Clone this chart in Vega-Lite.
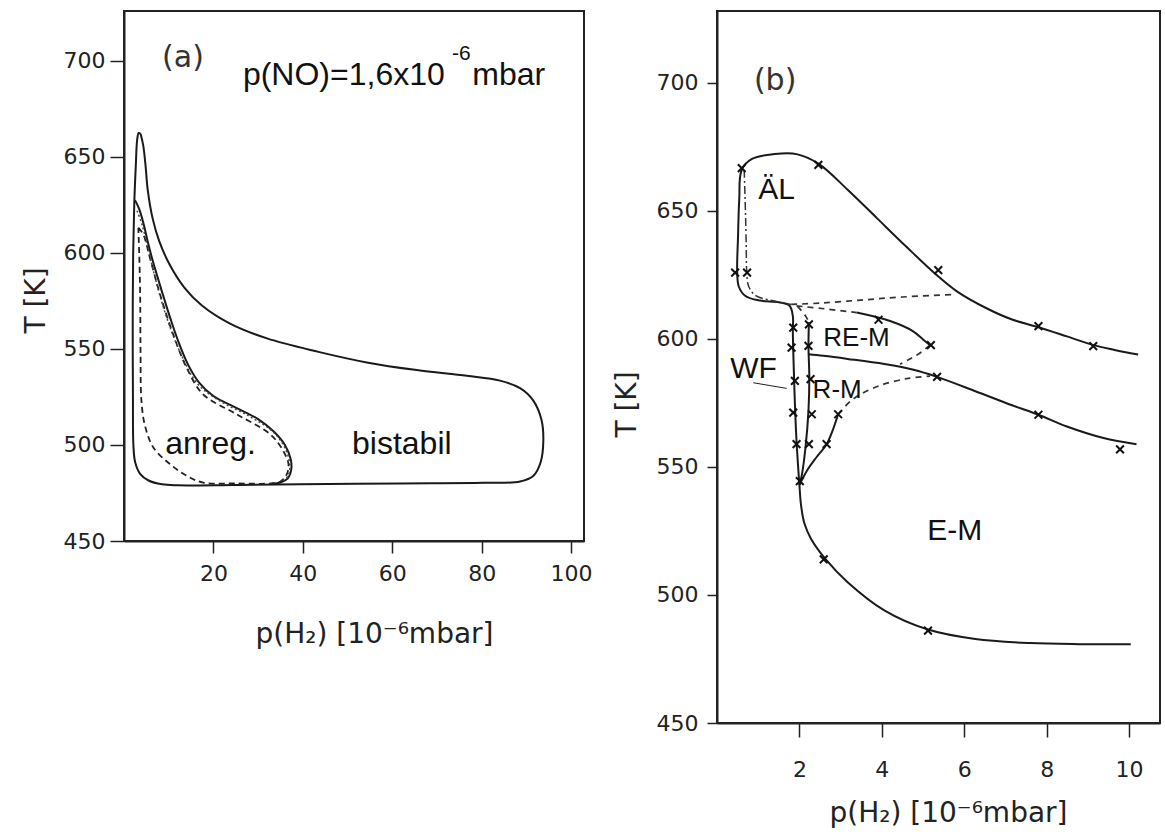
{
  "$schema": "https://vega.github.io/schema/vega-lite/v6.json",
  "padding": {"left": 21, "top": 10, "right": 0, "bottom": 0},
  "background": "white",
  "spacing": 18,
  "config": {
    "view": {"stroke": "#222", "strokeWidth": 2},
    "font": "DejaVu Sans",
    "axis": {
      "grid": false,
      "domainColor": "#222",
      "domainWidth": 2,
      "tickColor": "#222",
      "tickWidth": 1.5,
      "labelFont": "DejaVu Sans",
      "labelFontSize": 22,
      "labelColor": "#222",
      "titleFont": "DejaVu Sans",
      "titleFontSize": 28,
      "titleFontWeight": "normal",
      "titleColor": "#222",
      "titleBaseline": "middle",
      "titleAlign": "center"
    }
  },
  "datasets": {
    "a_lines": [
      {"c": "outer", "s": "solid", "i": 0, "p": 3.73, "T": 662.0},
      {"c": "outer", "s": "solid", "i": 1, "p": 4.3, "T": 656},
      {"c": "outer", "s": "solid", "i": 2, "p": 4.8, "T": 646},
      {"c": "outer", "s": "solid", "i": 3, "p": 5.3, "T": 633},
      {"c": "outer", "s": "solid", "i": 4, "p": 6.4, "T": 618},
      {"c": "outer", "s": "solid", "i": 5, "p": 7.9, "T": 606},
      {"c": "outer", "s": "solid", "i": 6, "p": 10.2, "T": 594},
      {"c": "outer", "s": "solid", "i": 7, "p": 13.5, "T": 582},
      {"c": "outer", "s": "solid", "i": 8, "p": 17.5, "T": 572.5},
      {"c": "outer", "s": "solid", "i": 9, "p": 23.5, "T": 563.5},
      {"c": "outer", "s": "solid", "i": 10, "p": 32, "T": 555.5},
      {"c": "outer", "s": "solid", "i": 11, "p": 43.5, "T": 548.5},
      {"c": "outer", "s": "solid", "i": 12, "p": 54.3, "T": 543},
      {"c": "outer", "s": "solid", "i": 13, "p": 65.5, "T": 539},
      {"c": "outer", "s": "solid", "i": 14, "p": 76.7, "T": 536},
      {"c": "outer", "s": "solid", "i": 15, "p": 84.1, "T": 533.5},
      {"c": "outer", "s": "solid", "i": 16, "p": 88.6, "T": 529.6},
      {"c": "outer", "s": "solid", "i": 17, "p": 91.6, "T": 523},
      {"c": "outer", "s": "solid", "i": 18, "p": 93.4, "T": 513},
      {"c": "outer", "s": "solid", "i": 19, "p": 93.8, "T": 502},
      {"c": "outer", "s": "solid", "i": 20, "p": 93.2, "T": 491},
      {"c": "outer", "s": "solid", "i": 21, "p": 91.6, "T": 484},
      {"c": "outer", "s": "solid", "i": 22, "p": 88.6, "T": 481},
      {"c": "outer", "s": "solid", "i": 23, "p": 80.4, "T": 480.3},
      {"c": "outer", "s": "solid", "i": 24, "p": 61.7, "T": 480},
      {"c": "outer", "s": "solid", "i": 25, "p": 39.4, "T": 479.6},
      {"c": "outer", "s": "solid", "i": 26, "p": 24.5, "T": 479.2},
      {"c": "outer", "s": "solid", "i": 27, "p": 12, "T": 479},
      {"c": "outer", "s": "solid", "i": 28, "p": 8.5, "T": 479.5},
      {"c": "outer", "s": "solid", "i": 29, "p": 5.5, "T": 481.5},
      {"c": "outer", "s": "solid", "i": 30, "p": 3.6, "T": 485},
      {"c": "outer", "s": "solid", "i": 31, "p": 2.5, "T": 491},
      {"c": "outer", "s": "solid", "i": 32, "p": 2.1, "T": 500},
      {"c": "outer", "s": "solid", "i": 33, "p": 2.0, "T": 525},
      {"c": "outer", "s": "solid", "i": 34, "p": 1.95, "T": 563},
      {"c": "outer", "s": "solid", "i": 35, "p": 2.05, "T": 600},
      {"c": "outer", "s": "solid", "i": 36, "p": 2.3, "T": 626},
      {"c": "outer", "s": "solid", "i": 37, "p": 2.65, "T": 646},
      {"c": "outer", "s": "solid", "i": 38, "p": 2.95, "T": 659},
      {"c": "outer", "s": "solid", "i": 39, "p": 3.3, "T": 662.5},
      {"c": "outer", "s": "solid", "i": 40, "p": 3.73, "T": 662.0},
      {"c": "inner", "s": "solid", "i": 0, "p": 2.46, "T": 627.5},
      {"c": "inner", "s": "solid", "i": 1, "p": 3.0, "T": 625},
      {"c": "inner", "s": "solid", "i": 2, "p": 3.6, "T": 621.5},
      {"c": "inner", "s": "solid", "i": 3, "p": 4.5, "T": 614},
      {"c": "inner", "s": "solid", "i": 4, "p": 5.3, "T": 606},
      {"c": "inner", "s": "solid", "i": 5, "p": 6.3, "T": 597},
      {"c": "inner", "s": "solid", "i": 6, "p": 7.5, "T": 587.5},
      {"c": "inner", "s": "solid", "i": 7, "p": 9.0, "T": 576},
      {"c": "inner", "s": "solid", "i": 8, "p": 10.5, "T": 565},
      {"c": "inner", "s": "solid", "i": 9, "p": 12.3, "T": 553},
      {"c": "inner", "s": "solid", "i": 10, "p": 14.3, "T": 542},
      {"c": "inner", "s": "solid", "i": 11, "p": 16.8, "T": 532.5},
      {"c": "inner", "s": "solid", "i": 12, "p": 20, "T": 525.5},
      {"c": "inner", "s": "solid", "i": 13, "p": 25, "T": 519.5},
      {"c": "inner", "s": "solid", "i": 14, "p": 30, "T": 513.5},
      {"c": "inner", "s": "solid", "i": 15, "p": 33.5, "T": 507},
      {"c": "inner", "s": "solid", "i": 16, "p": 36, "T": 500},
      {"c": "inner", "s": "solid", "i": 17, "p": 37.3, "T": 492.5},
      {"c": "inner", "s": "solid", "i": 18, "p": 37.4, "T": 487},
      {"c": "inner", "s": "solid", "i": 19, "p": 36.6, "T": 482.5},
      {"c": "inner", "s": "solid", "i": 20, "p": 35, "T": 480.5},
      {"c": "inner", "s": "solid", "i": 21, "p": 33, "T": 479.8},
      {"c": "dash", "s": "dashed", "i": 0, "p": 3.2, "T": 613.2},
      {"c": "dash", "s": "dashed", "i": 1, "p": 4.3, "T": 609.7},
      {"c": "dash", "s": "dashed", "i": 2, "p": 5.8, "T": 597.5},
      {"c": "dash", "s": "dashed", "i": 3, "p": 8.05, "T": 578.5},
      {"c": "dash", "s": "dashed", "i": 4, "p": 11.0, "T": 557.6},
      {"c": "dash", "s": "dashed", "i": 5, "p": 14.0, "T": 540.3},
      {"c": "dash", "s": "dashed", "i": 6, "p": 17.7, "T": 526.4},
      {"c": "dash", "s": "dashed", "i": 7, "p": 25.2, "T": 516},
      {"c": "dash", "s": "dashed", "i": 8, "p": 32.7, "T": 505.6},
      {"c": "dash", "s": "dashed", "i": 9, "p": 35.6, "T": 497},
      {"c": "dash", "s": "dashed", "i": 10, "p": 36.8, "T": 490},
      {"c": "dash", "s": "dashed", "i": 11, "p": 36.4, "T": 484.7},
      {"c": "dash", "s": "dashed", "i": 12, "p": 35, "T": 481},
      {"c": "dash", "s": "dashed", "i": 13, "p": 33, "T": 480},
      {"c": "dash", "s": "dashed", "i": 14, "p": 25, "T": 480},
      {"c": "dash", "s": "dashed", "i": 15, "p": 17.7, "T": 480.4},
      {"c": "dash", "s": "dashed", "i": 16, "p": 14, "T": 484},
      {"c": "dash", "s": "dashed", "i": 17, "p": 10.3, "T": 490},
      {"c": "dash", "s": "dashed", "i": 18, "p": 6.6, "T": 498.6},
      {"c": "dash", "s": "dashed", "i": 19, "p": 4.7, "T": 510},
      {"c": "dash", "s": "dashed", "i": 20, "p": 3.9, "T": 523},
      {"c": "dash", "s": "dashed", "i": 21, "p": 3.7, "T": 550},
      {"c": "dash", "s": "dashed", "i": 22, "p": 3.6, "T": 580},
      {"c": "dash", "s": "dashed", "i": 23, "p": 3.4, "T": 600},
      {"c": "dash", "s": "dashed", "i": 24, "p": 3.2, "T": 613.2},
      {"c": "dot", "s": "dotted", "i": 0, "p": 2.9, "T": 622},
      {"c": "dot", "s": "dotted", "i": 1, "p": 4.0, "T": 615},
      {"c": "dot", "s": "dotted", "i": 2, "p": 5.4, "T": 602},
      {"c": "dot", "s": "dotted", "i": 3, "p": 7.2, "T": 585},
      {"c": "dot", "s": "dotted", "i": 4, "p": 9.6, "T": 566},
      {"c": "dot", "s": "dotted", "i": 5, "p": 12.8, "T": 547},
      {"c": "dot", "s": "dotted", "i": 6, "p": 16.4, "T": 532},
      {"c": "dot", "s": "dotted", "i": 7, "p": 21, "T": 523.5},
      {"c": "dot", "s": "dotted", "i": 8, "p": 28, "T": 515},
      {"c": "dot", "s": "dotted", "i": 9, "p": 33.5, "T": 506.5},
      {"c": "dot", "s": "dotted", "i": 10, "p": 36.2, "T": 497.5},
      {"c": "dot", "s": "dotted", "i": 11, "p": 37.1, "T": 489},
      {"c": "dot", "s": "dotted", "i": 12, "p": 36.6, "T": 483.5},
      {"c": "dot", "s": "dotted", "i": 13, "p": 35, "T": 481.5}
    ],
    "b_lines": [
      {"c": "top", "s": "solid", "i": 0, "p": 10.22, "T": 593.9},
      {"c": "top", "s": "solid", "i": 1, "p": 9.65, "T": 595.7},
      {"c": "top", "s": "solid", "i": 2, "p": 9.13, "T": 597.6},
      {"c": "top", "s": "solid", "i": 3, "p": 8.49, "T": 601.0},
      {"c": "top", "s": "solid", "i": 4, "p": 7.8, "T": 604.6},
      {"c": "top", "s": "solid", "i": 5, "p": 7.16, "T": 607.6},
      {"c": "top", "s": "solid", "i": 6, "p": 6.54, "T": 612},
      {"c": "top", "s": "solid", "i": 7, "p": 5.83, "T": 618.5},
      {"c": "top", "s": "solid", "i": 8, "p": 5.3, "T": 625.4},
      {"c": "top", "s": "solid", "i": 9, "p": 4.59, "T": 636.1},
      {"c": "top", "s": "solid", "i": 10, "p": 3.88, "T": 647.2},
      {"c": "top", "s": "solid", "i": 11, "p": 3.17, "T": 658.3},
      {"c": "top", "s": "solid", "i": 12, "p": 2.46, "T": 668.5},
      {"c": "top", "s": "solid", "i": 13, "p": 1.93, "T": 672.2},
      {"c": "top", "s": "solid", "i": 14, "p": 1.4, "T": 672.2},
      {"c": "top", "s": "solid", "i": 15, "p": 0.86, "T": 670.4},
      {"c": "top", "s": "solid", "i": 16, "p": 0.6, "T": 666.1},
      {"c": "top", "s": "solid", "i": 17, "p": 0.54, "T": 654.6},
      {"c": "top", "s": "solid", "i": 18, "p": 0.51, "T": 639.8},
      {"c": "top", "s": "solid", "i": 19, "p": 0.49, "T": 626},
      {"c": "top", "s": "solid", "i": 20, "p": 0.53, "T": 620.4},
      {"c": "top", "s": "solid", "i": 21, "p": 0.69, "T": 616.8},
      {"c": "top", "s": "solid", "i": 22, "p": 1.04, "T": 615},
      {"c": "top", "s": "solid", "i": 23, "p": 1.5, "T": 614.3},
      {"c": "top", "s": "solid", "i": 24, "p": 1.76, "T": 613},
      {"c": "top", "s": "solid", "i": 25, "p": 1.84, "T": 609},
      {"c": "top", "s": "solid", "i": 26, "p": 1.84, "T": 603},
      {"c": "top", "s": "solid", "i": 27, "p": 1.86, "T": 590},
      {"c": "top", "s": "solid", "i": 28, "p": 1.89, "T": 575},
      {"c": "top", "s": "solid", "i": 29, "p": 1.93, "T": 560},
      {"c": "top", "s": "solid", "i": 30, "p": 2.0, "T": 543},
      {"c": "top", "s": "solid", "i": 31, "p": 2.04, "T": 535},
      {"c": "top", "s": "solid", "i": 32, "p": 2.12, "T": 528},
      {"c": "top", "s": "solid", "i": 33, "p": 2.28, "T": 522},
      {"c": "top", "s": "solid", "i": 34, "p": 2.64, "T": 513.9},
      {"c": "top", "s": "solid", "i": 35, "p": 3.17, "T": 505},
      {"c": "top", "s": "solid", "i": 36, "p": 4.06, "T": 494},
      {"c": "top", "s": "solid", "i": 37, "p": 5.12, "T": 486.5},
      {"c": "top", "s": "solid", "i": 38, "p": 6.27, "T": 482.8},
      {"c": "top", "s": "solid", "i": 39, "p": 7.6, "T": 481.2},
      {"c": "top", "s": "solid", "i": 40, "p": 8.8, "T": 480.8},
      {"c": "top", "s": "solid", "i": 41, "p": 10.04, "T": 480.8},
      {"c": "rv", "s": "solid", "i": 0, "p": 2.23, "T": 606.5},
      {"c": "rv", "s": "solid", "i": 1, "p": 2.22, "T": 597},
      {"c": "rv", "s": "solid", "i": 2, "p": 2.24, "T": 585},
      {"c": "rv", "s": "solid", "i": 3, "p": 2.22, "T": 572},
      {"c": "rv", "s": "solid", "i": 4, "p": 2.15, "T": 558},
      {"c": "rv", "s": "solid", "i": 5, "p": 2.06, "T": 547},
      {"c": "rv", "s": "solid", "i": 6, "p": 2.0, "T": 543},
      {"c": "mid", "s": "solid", "i": 0, "p": 2.22, "T": 594},
      {"c": "mid", "s": "solid", "i": 1, "p": 2.58, "T": 593.4},
      {"c": "mid", "s": "solid", "i": 2, "p": 3.17, "T": 592.2},
      {"c": "mid", "s": "solid", "i": 3, "p": 4.06, "T": 590.2},
      {"c": "mid", "s": "solid", "i": 4, "p": 4.77, "T": 588},
      {"c": "mid", "s": "solid", "i": 5, "p": 5.34, "T": 585.2},
      {"c": "mid", "s": "solid", "i": 6, "p": 6.27, "T": 579.6},
      {"c": "mid", "s": "solid", "i": 7, "p": 7.16, "T": 574.1},
      {"c": "mid", "s": "solid", "i": 8, "p": 7.8, "T": 570.4},
      {"c": "mid", "s": "solid", "i": 9, "p": 8.49, "T": 565.8},
      {"c": "mid", "s": "solid", "i": 10, "p": 9.38, "T": 561.3},
      {"c": "mid", "s": "solid", "i": 11, "p": 10.18, "T": 558.9},
      {"c": "diag", "s": "solid", "i": 0, "p": 2.0, "T": 543},
      {"c": "diag", "s": "solid", "i": 1, "p": 2.2, "T": 549},
      {"c": "diag", "s": "solid", "i": 2, "p": 2.4, "T": 553.5},
      {"c": "diag", "s": "solid", "i": 3, "p": 2.66, "T": 558.9},
      {"c": "diag", "s": "solid", "i": 4, "p": 2.8, "T": 564},
      {"c": "diag", "s": "solid", "i": 5, "p": 2.94, "T": 570.6},
      {"c": "loop", "s": "solid", "i": 0, "p": 3.39, "T": 610.3},
      {"c": "loop", "s": "solid", "i": 1, "p": 4.2, "T": 607},
      {"c": "loop", "s": "solid", "i": 2, "p": 4.76, "T": 603},
      {"c": "loop", "s": "solid", "i": 3, "p": 5.0, "T": 599.8},
      {"c": "loop", "s": "solid", "i": 4, "p": 5.17, "T": 597.6},
      {"c": "diagd", "s": "dashed", "i": 0, "p": 2.94, "T": 570.6},
      {"c": "diagd", "s": "dashed", "i": 1, "p": 3.3, "T": 576.5},
      {"c": "diagd", "s": "dashed", "i": 2, "p": 3.9, "T": 581.5},
      {"c": "diagd", "s": "dashed", "i": 3, "p": 4.6, "T": 584.5},
      {"c": "diagd", "s": "dashed", "i": 4, "p": 5.17, "T": 585.5},
      {"c": "loopd1", "s": "dashed", "i": 0, "p": 1.93, "T": 612.9},
      {"c": "loopd1", "s": "dashed", "i": 1, "p": 2.6, "T": 611.8},
      {"c": "loopd1", "s": "dashed", "i": 2, "p": 3.39, "T": 610.3},
      {"c": "loopd2", "s": "dashed", "i": 0, "p": 5.17, "T": 597.6},
      {"c": "loopd2", "s": "dashed", "i": 1, "p": 4.9, "T": 594.2},
      {"c": "loopd2", "s": "dashed", "i": 2, "p": 4.68, "T": 592.2},
      {"c": "loopd2", "s": "dashed", "i": 3, "p": 4.44, "T": 590.1},
      {"c": "upd", "s": "dashed", "i": 0, "p": 1.8, "T": 613.5},
      {"c": "upd", "s": "dashed", "i": 1, "p": 2.5, "T": 614},
      {"c": "upd", "s": "dashed", "i": 2, "p": 3.5, "T": 615.2},
      {"c": "upd", "s": "dashed", "i": 3, "p": 4.5, "T": 616.4},
      {"c": "upd", "s": "dashed", "i": 4, "p": 5.7, "T": 617.3},
      {"c": "rvtop", "s": "dashed", "i": 0, "p": 1.95, "T": 612.8},
      {"c": "rvtop", "s": "dashed", "i": 1, "p": 2.15, "T": 609},
      {"c": "rvtop", "s": "dashed", "i": 2, "p": 2.23, "T": 606.5},
      {"c": "al", "s": "dashdot", "i": 0, "p": 0.66, "T": 666},
      {"c": "al", "s": "dashdot", "i": 1, "p": 0.69, "T": 650},
      {"c": "al", "s": "dashdot", "i": 2, "p": 0.71, "T": 636},
      {"c": "al", "s": "dashdot", "i": 3, "p": 0.72, "T": 627},
      {"c": "al", "s": "dashdot", "i": 4, "p": 0.77, "T": 620.5},
      {"c": "al", "s": "dashdot", "i": 5, "p": 0.95, "T": 616.8},
      {"c": "al", "s": "dashdot", "i": 6, "p": 1.4, "T": 614.8},
      {"c": "al", "s": "dashdot", "i": 7, "p": 1.8, "T": 613.5},
      {"c": "wf", "s": "thin", "i": 0, "p": 0.88, "T": 582.9},
      {"c": "wf", "s": "thin", "i": 1, "p": 1.69, "T": 580.7}
    ],
    "b_marks": [
      {"p": 0.6, "T": 666.7}, {"p": 2.46, "T": 668.0}, {"p": 0.44, "T": 625.9},
      {"p": 0.73, "T": 625.9}, {"p": 5.37, "T": 626.9}, {"p": 7.8, "T": 605.0},
      {"p": 9.13, "T": 597.2}, {"p": 5.19, "T": 597.6}, {"p": 5.34, "T": 585.2},
      {"p": 7.8, "T": 570.4}, {"p": 9.78, "T": 556.9}, {"p": 2.59, "T": 513.9},
      {"p": 5.12, "T": 486.1}, {"p": 3.92, "T": 607.5},
      {"p": 1.85, "T": 604.4}, {"p": 1.81, "T": 596.6}, {"p": 1.89, "T": 583.6},
      {"p": 1.85, "T": 571.2}, {"p": 1.93, "T": 558.9}, {"p": 2.01, "T": 544.5},
      {"p": 2.23, "T": 605.7}, {"p": 2.22, "T": 597.3}, {"p": 2.27, "T": 584.3},
      {"p": 2.3, "T": 570.6}, {"p": 2.23, "T": 558.9}, {"p": 2.66, "T": 558.9},
      {"p": 2.94, "T": 570.6}
    ]
  },
  "hconcat": [
    {
      "width": 460,
      "height": 530,
      "encoding": {
        "x": {
          "field": "p", "type": "quantitative",
          "scale": {"domain": [0, 102.9], "nice": false, "zero": false},
          "axis": {
            "values": [20, 40, 60, 80, 100],
            "title": "p(H₂)  [10⁻⁶mbar]",
            "tickSize": 12, "labelPadding": 10,
            "titleX": 250, "titleY": 93
          }
        },
        "y": {
          "field": "T", "type": "quantitative",
          "scale": {"domain": [450, 726], "nice": false, "zero": false},
          "axis": {
            "values": [450, 500, 550, 600, 650, 700],
            "title": "T  [K]",
            "tickSize": 14, "labelPadding": 5,
            "titleX": -88, "titleY": 289
          }
        }
      },
      "layer": [
        {
          "data": {"name": "a_lines"},
          "transform": [{"filter": "datum.s == 'solid'"}],
          "mark": {"type": "line", "interpolate": "catmull-rom", "stroke": "#1a1a1a", "strokeWidth": 2},
          "encoding": {"detail": {"field": "c"}, "order": {"field": "i", "type": "quantitative"}}
        },
        {
          "data": {"name": "a_lines"},
          "transform": [{"filter": "datum.s == 'dashed'"}],
          "mark": {"type": "line", "interpolate": "catmull-rom", "stroke": "#222", "strokeWidth": 1.8, "strokeDash": [6, 4]},
          "encoding": {"detail": {"field": "c"}, "order": {"field": "i", "type": "quantitative"}}
        },
        {
          "data": {"name": "a_lines"},
          "transform": [{"filter": "datum.s == 'dotted'"}],
          "mark": {"type": "line", "interpolate": "catmull-rom", "stroke": "#444", "strokeWidth": 1.5, "strokeDash": [2, 2.5]},
          "encoding": {"detail": {"field": "c"}, "order": {"field": "i", "type": "quantitative"}}
        },
        {
          "data": {"values": [{"p": 13.2, "T": 701.6, "label": "(a)"}]},
          "mark": {"type": "text", "font": "DejaVu Sans", "fontSize": 30, "align": "center", "baseline": "middle", "color": "#333"},
          "encoding": {"text": {"field": "label"}}
        },
        {
          "data": {"values": [
            {"p": 26.6, "T": 687.5, "label": "p(NO)=1,6x10"},
            {"p": 77.9, "T": 687.5, "label": "mbar"},
            {"p": 9.2, "T": 495.4, "label": "anreg."},
            {"p": 51, "T": 495.4, "label": "bistabil"}
          ]},
          "mark": {"type": "text", "font": "Liberation Sans", "fontSize": 32, "align": "left", "baseline": "alphabetic", "color": "#111"},
          "encoding": {"text": {"field": "label"}}
        },
        {
          "data": {"values": [{"p": 73.4, "T": 700.5, "label": "-6"}]},
          "mark": {"type": "text", "font": "Liberation Sans", "fontSize": 21, "align": "left", "baseline": "alphabetic", "color": "#111"},
          "encoding": {"text": {"field": "label"}}
        }
      ]
    },
    {
      "width": 443,
      "height": 712,
      "encoding": {
        "x": {
          "field": "p", "type": "quantitative",
          "scale": {"domain": [0, 10.75], "nice": false, "zero": false},
          "axis": {
            "values": [2, 4, 6, 8, 10],
            "title": "p(H₂)  [10⁻⁶mbar]",
            "tickSize": 14, "labelPadding": 22,
            "titleX": 231, "titleY": 90
          }
        },
        "y": {
          "field": "T", "type": "quantitative",
          "scale": {"domain": [450, 728.1], "nice": false, "zero": false},
          "axis": {
            "values": [450, 500, 550, 600, 650, 700],
            "title": "T  [K]",
            "tickSize": 10, "labelPadding": 9,
            "titleX": -90, "titleY": 393
          }
        }
      },
      "layer": [
        {
          "data": {"name": "b_lines"},
          "transform": [{"filter": "datum.s == 'solid'"}],
          "mark": {"type": "line", "interpolate": "catmull-rom", "stroke": "#1a1a1a", "strokeWidth": 2},
          "encoding": {"detail": {"field": "c"}, "order": {"field": "i", "type": "quantitative"}}
        },
        {
          "data": {"name": "b_lines"},
          "transform": [{"filter": "datum.s == 'dashed'"}],
          "mark": {"type": "line", "interpolate": "catmull-rom", "stroke": "#333", "strokeWidth": 1.7, "strokeDash": [6, 5]},
          "encoding": {"detail": {"field": "c"}, "order": {"field": "i", "type": "quantitative"}}
        },
        {
          "data": {"name": "b_lines"},
          "transform": [{"filter": "datum.s == 'dashdot'"}],
          "mark": {"type": "line", "interpolate": "catmull-rom", "stroke": "#333", "strokeWidth": 1.5, "strokeDash": [8, 3, 2, 3]},
          "encoding": {"detail": {"field": "c"}, "order": {"field": "i", "type": "quantitative"}}
        },
        {
          "data": {"name": "b_lines"},
          "transform": [{"filter": "datum.s == 'thin'"}],
          "mark": {"type": "line", "stroke": "#222", "strokeWidth": 1},
          "encoding": {"detail": {"field": "c"}, "order": {"field": "i", "type": "quantitative"}}
        },
        {
          "data": {"name": "b_marks"},
          "mark": {"type": "point", "shape": "M-1,-1L1,1M-1,1L1,-1", "size": 60, "filled": false, "stroke": "#111", "strokeWidth": 2, "opacity": 1}
        },
        {
          "data": {"values": [{"p": 1.41, "T": 700.8, "label": "(b)"}]},
          "mark": {"type": "text", "font": "DejaVu Sans", "fontSize": 30, "align": "center", "baseline": "middle", "color": "#333"},
          "encoding": {"text": {"field": "label"}}
        },
        {
          "data": {"values": [
            {"p": 1.0, "T": 654.6, "label": "ÄL"},
            {"p": 0.32, "T": 584.9, "label": "WF"},
            {"p": 5.1, "T": 521.3, "label": "E-M"}
          ]},
          "mark": {"type": "text", "font": "Liberation Sans", "fontSize": 30, "align": "left", "baseline": "alphabetic", "color": "#111"},
          "encoding": {"text": {"field": "label"}}
        },
        {
          "data": {"values": [
            {"p": 2.58, "T": 597.3, "label": "RE-M"},
            {"p": 2.32, "T": 576.8, "label": "R-M"}
          ]},
          "mark": {"type": "text", "font": "Liberation Sans", "fontSize": 26, "align": "left", "baseline": "alphabetic", "color": "#111"},
          "encoding": {"text": {"field": "label"}}
        }
      ]
    }
  ]
}
